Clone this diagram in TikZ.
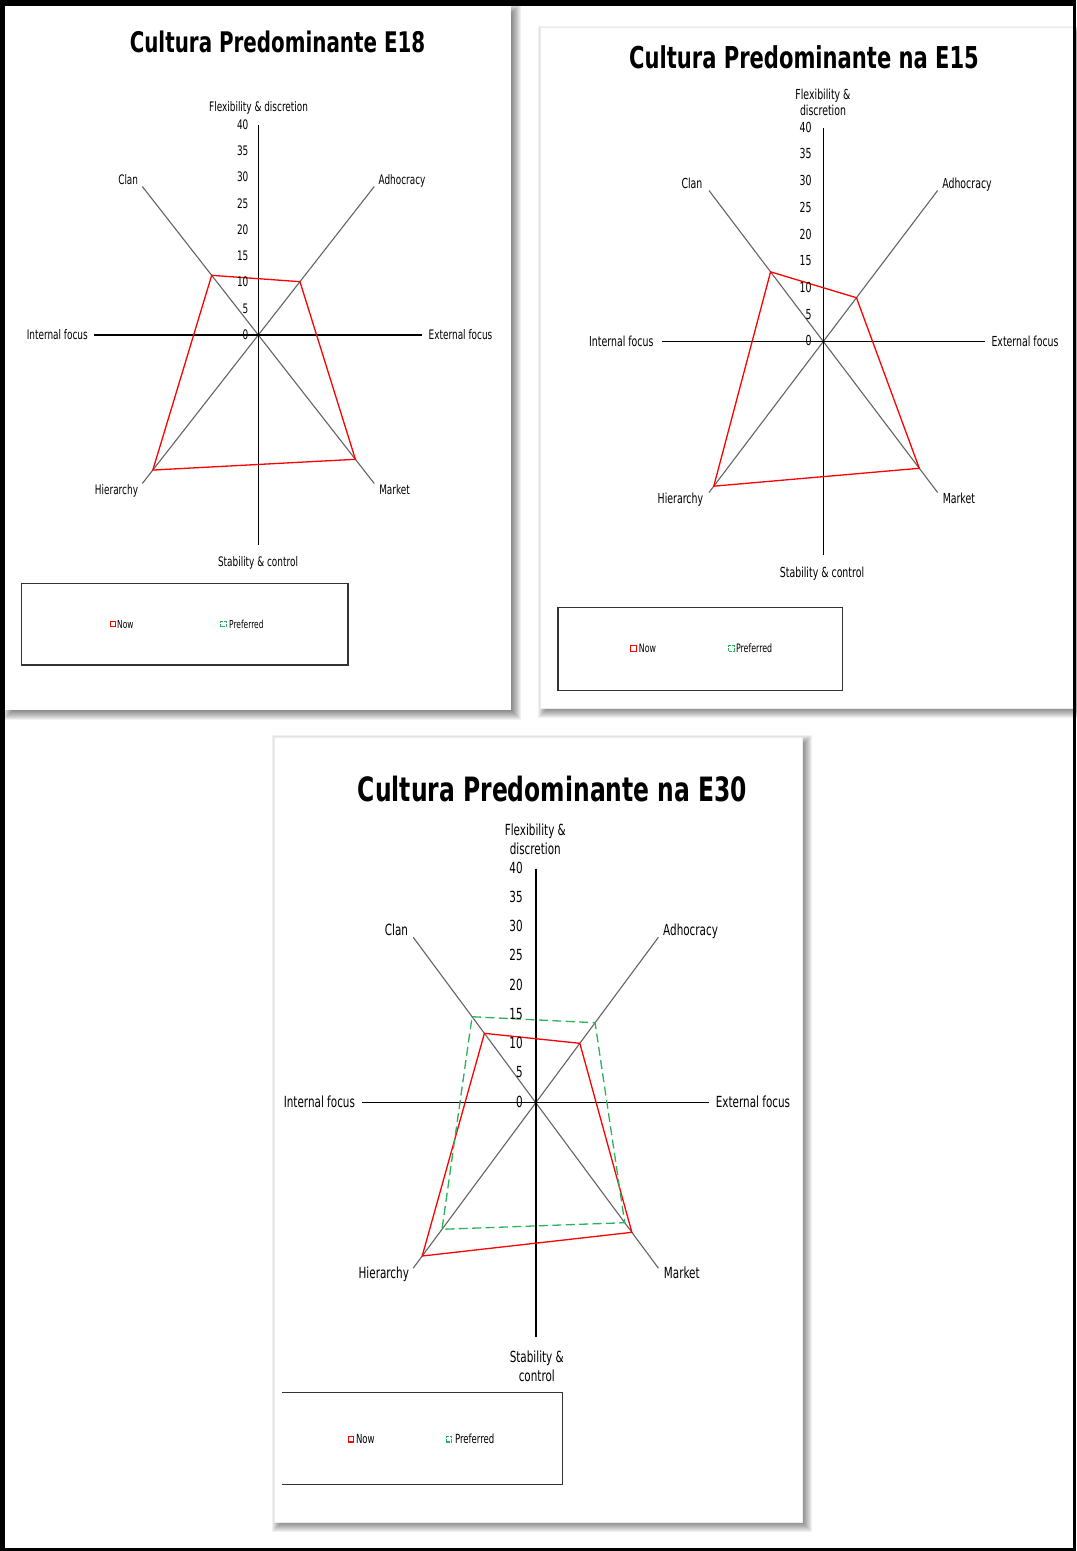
\documentclass[tikz,border=0pt]{standalone}
\usepackage{fontspec}
\newfontfamily\lblf[FakeStretch=0.68]{DejaVu Sans}
\newfontfamily\ttlf[FakeStretch=0.70]{DejaVu Sans Bold}
\definecolor{nowred}{RGB}{255,0,0}
\definecolor{prefgreen}{RGB}{40,180,90}
\definecolor{spokegray}{RGB}{100,100,100}
\definecolor{paneledge}{RGB}{236,236,236}

% soft drop shadow under a panel given by its pixel corners (x0,y0)-(x1,y1), y downwards
\newcommand\panelshadow[4]{%
  \foreach \e in {-4,...,6}{%
    \fill[black,opacity=0.055] (#1+4-\e,-#2-4+\e) rectangle (#3+4+\e,-#4-4-\e);}}

\begin{document}
\begin{tikzpicture}[x=0.5pt,y=0.5pt,
  axis/.style={black,line width=0.7pt},
  spoke/.style={spokegray,line width=0.55pt},
  now/.style={nowred,line width=0.65pt,line join=miter},
  pref/.style={prefgreen,line width=0.65pt,dash pattern=on 4.5pt off 2.2pt},
  lbl/.style={inner sep=0pt,anchor=mid},
  mlbl/.style={inner sep=0pt,anchor=center,align=center},
  tick/.style={inner sep=0pt,anchor=mid east},
  ttl/.style={inner sep=0pt,anchor=base},
  legbox/.style={draw=black!80,line width=0.65pt},
  nowmark/.style={draw=nowred,line width=0.55pt,minimum size=2.7pt,inner sep=0pt},
  prefmark/.style={draw=prefgreen,line width=0.55pt,minimum size=2.7pt,inner sep=0pt,dash pattern=on 1.8pt off 0.5pt},
  fa/.style={font=\lblf\fontsize{6.55pt}{7.5pt}\selectfont},
  fb/.style={font=\lblf\fontsize{6.9pt}{8pt}\selectfont},
  fc/.style={font=\lblf\fontsize{7.65pt}{9.65pt}\selectfont},
  la/.style={font=\lblf\fontsize{5.5pt}{6.5pt}\selectfont,inner sep=0pt,anchor=mid west},
  lb/.style={font=\lblf\fontsize{5.8pt}{6.8pt}\selectfont,inner sep=0pt,anchor=mid west},
  lc/.style={font=\lblf\fontsize{6.3pt}{7.3pt}\selectfont,inner sep=0pt,anchor=mid west},
]
\useasboundingbox (0,0) rectangle (1076,-1551);
\fill[white] (0,0) rectangle (1076,-1551);

% ---------- panels with shadows ----------
\panelshadow{5}{6}{511}{710}
\fill[white] (5,-6) rectangle (511,-710);
\panelshadow{540}{28}{1073}{708}
\filldraw[fill=white,draw=paneledge,line width=0.5pt] (540,-28) rectangle (1073,-708);
\panelshadow{274}{737}{802}{1522}
\filldraw[fill=white,draw=paneledge,line width=0.5pt] (274,-737) rectangle (802,-1522);

% =====================================================
% Chart E18
% =====================================================
\node[ttl,font=\ttlf\fontsize{14.2pt}{16pt}\selectfont] (t1) at (277.5,-52.7) {Cultura Predominante E18};
\begin{scope}[shift={(258.3,-335)},xscale=0.781]
  \coordinate (a0) at (0,0);
  \foreach \a in {45,135,225,315} \draw[spoke] (a0) -- (\a:210);
  \draw[axis] (180:210) -- (0:210);
  \draw[axis] (90:210) -- (270:210);
  \coordinate (a-clan) at (135:84.4);
  \coordinate (a-adh) at (45:75.4);
  \coordinate (a-mkt) at (-45:175.8);
  \coordinate (a-hier) at (225:191);
  \draw[now] (a-clan) -- (a-adh) -- (a-mkt) -- (a-hier) -- cycle;
\end{scope}
\foreach \v in {0,5,...,40} \node[tick,fa] (a-t\v) at (248.8,-335+\v*5.25) {\v};
\node[lbl,fa] (a-flex) at (258.6,-107.5) {Flexibility \& discretion};
\node[lbl,fa] (a-lclan) at (128.2,-180.5) {Clan};
\node[lbl,fa] (a-ladh) at (402,-180.5) {Adhocracy};
\node[lbl,fa] (a-int) at (57.3,-335) {Internal focus};
\node[lbl,fa] (a-ext) at (460.5,-335) {External focus};
\node[lbl,fa] (a-lhier) at (116.5,-490) {Hierarchy};
\node[lbl,fa] (a-lmkt) at (394.6,-490) {Market};
\node[lbl,fa] (a-stab) at (258,-562.3) {Stability \& control};
\draw[legbox] (21.3,-583.3) rectangle (348,-665);
\node[nowmark] (a-mnow) at (112.8,-624.2) {};
\node[la] (a-now) at (116.8,-624) {Now};
\node[prefmark] (a-mpref) at (223.6,-624.2) {};
\node[la] (a-pref) at (228.8,-624) {Preferred};

% =====================================================
% Chart E15
% =====================================================
\node[ttl,font=\ttlf\fontsize{15.05pt}{17pt}\selectfont] (t2) at (804,-69) {Cultura Predominante na E15};
\begin{scope}[shift={(823.3,-341.5)},xscale=0.757]
  \coordinate (b0) at (0,0);
  \foreach \a in {45,135,225,315} \draw[spoke] (b0) -- (\a:213.6);
  \draw[axis] (180:213.6) -- (0:213.6);
  \draw[axis] (90:213.6) -- (270:213.6);
  \coordinate (b-clan) at (135:98.5);
  \coordinate (b-adh) at (45:61.9);
  \coordinate (b-mkt) at (-45:179.3);
  \coordinate (b-hier) at (225:204.6);
  \draw[now] (b-clan) -- (b-adh) -- (b-mkt) -- (b-hier) -- cycle;
\end{scope}
\foreach \v in {0,5,...,40} \node[tick,fb] (b-t\v) at (812,-341.5+\v*5.34) {\v};
\node[mlbl,fb] (b-flex) at (823,-102) {Flexibility \&\\discretion};
\node[lbl,fb] (b-lclan) at (692,-184.3) {Clan};
\node[lbl,fb] (b-ladh) at (967,-184.3) {Adhocracy};
\node[lbl,fb] (b-int) at (621.3,-341.7) {Internal focus};
\node[lbl,fb] (b-ext) at (1025,-341.7) {External focus};
\node[lbl,fb] (b-lhier) at (680.4,-499.3) {Hierarchy};
\node[lbl,fb] (b-lmkt) at (958.9,-499.3) {Market};
\node[lbl,fb] (b-stab) at (822,-573.3) {Stability \& control};
\draw[legbox] (557.9,-607.3) rectangle (842.7,-690.7);
\node[nowmark] (b-mnow) at (633.5,-648.5) {};
\node[lb] (b-now) at (638.5,-648.3) {Now};
\node[prefmark] (b-mpref) at (731.4,-648.5) {};
\node[lb] (b-pref) at (735.6,-648.3) {Preferred};

% =====================================================
% Chart E30
% =====================================================
\node[ttl,font=\ttlf\fontsize{16.75pt}{19pt}\selectfont] (t3) at (552.5,-801) {Cultura Predominante na E30};
\begin{scope}[shift={(535.8,-1102.7)},xscale=0.741]
  \coordinate (c0) at (0,0);
  \foreach \a in {45,135,225,315} \draw[spoke] (c0) -- (\a:234);
  \draw[axis] (180:234) -- (0:234);
  \draw[axis] (90:234) -- (270:234);
  \coordinate (c-clan) at (135:98.1);
  \coordinate (c-adh) at (45:84);
  \coordinate (c-mkt) at (-45:183.3);
  \coordinate (c-hier) at (225:216.8);
  \coordinate (c-pclan) at (135:121.6);
  \coordinate (c-padh) at (45:113.1);
  \coordinate (c-pmkt) at (-45:169.7);
  \coordinate (c-phier) at (225:179);
  \draw[now] (c-clan) -- (c-adh) -- (c-mkt) -- (c-hier) -- cycle;
  \draw[pref] (c-pclan) -- (c-padh) -- (c-pmkt) -- (c-phier) -- cycle;
\end{scope}
\foreach \v in {0,5,...,40} \node[tick,fc] (c-t\v) at (523.1,-1102.7+\v*5.85) {\v};
\node[mlbl,fc] (c-flex) at (535.3,-839.5) {Flexibility \&\\discretion};
\node[lbl,fc] (c-lclan) at (396.5,-931) {Clan};
\node[lbl,fc] (c-ladh) at (690.6,-931) {Adhocracy};
\node[lbl,fc] (c-int) at (319.4,-1102.7) {Internal focus};
\node[lbl,fc] (c-ext) at (753,-1102.7) {External focus};
\node[lbl,fc] (c-lhier) at (383.8,-1274) {Hierarchy};
\node[lbl,fc] (c-lmkt) at (681.8,-1274) {Market};
\node[mlbl,fc] (c-stab) at (536.8,-1366.5) {Stability \&\\control};
\draw[legbox] (282,-1392.7) -- (562.7,-1392.7) -- (562.7,-1484.3) -- (282,-1484.3);
\node[nowmark] (c-mnow) at (351.1,-1439.3) {};
\node[lc] (c-now) at (355.6,-1439) {Now};
\node[prefmark] (c-mpref) at (448.9,-1439.3) {};
\node[lc] (c-pref) at (454.6,-1439) {Preferred};

% ---------- outer frame ----------
\fill[black] (0,0) rectangle (1076,-6);
\fill[black] (0,0) rectangle (5,-1551);
\fill[black] (1073,0) rectangle (1076,-1551);
\fill[black] (0,-1548) rectangle (1076,-1551);
\end{tikzpicture}
\end{document}
